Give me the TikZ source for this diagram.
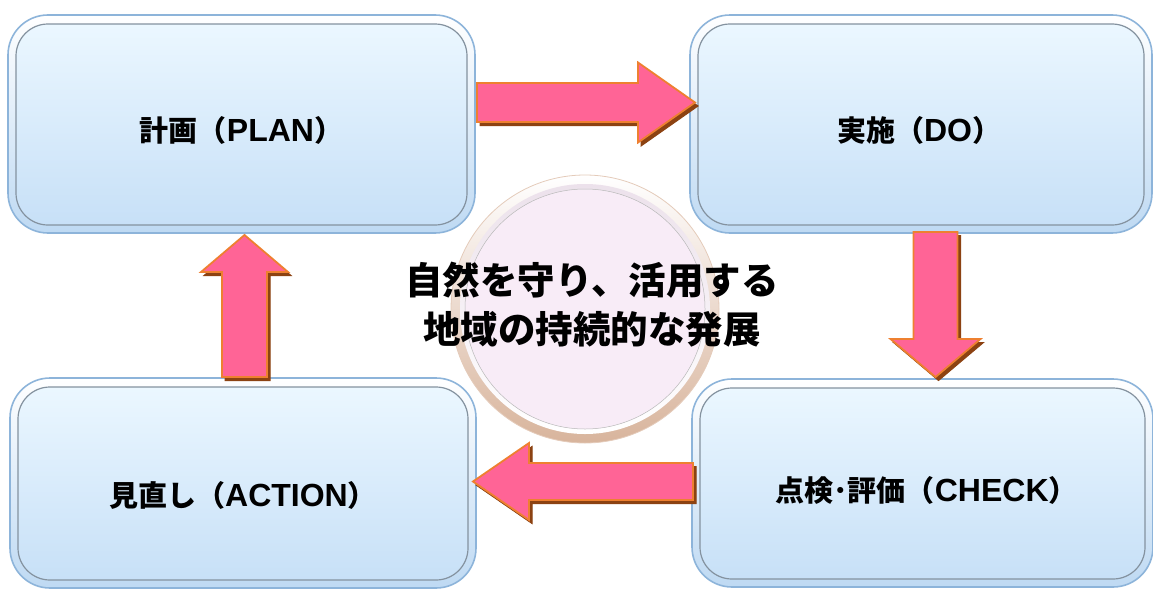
\documentclass[tikz,border=0pt]{standalone}
\usepackage{fontspec}
\setmainfont{Noto Sans CJK JP}
\newfontfamily\latfont{Liberation Sans}
\newcommand\rom[1]{{\latfont\fontsize{32}{34}\selectfont\bfseries #1}}
\usetikzlibrary{calc,positioning}
\definecolor{marco}{HTML}{8DB4DA}
\definecolor{cieloa}{HTML}{EBF7FF}
\definecolor{cielob}{HTML}{C7E0F7}
\definecolor{rosa}{HTML}{FF6496}
\definecolor{naranja}{HTML}{EE8030}
\definecolor{sombra}{HTML}{8C4212}
\definecolor{lila}{HTML}{F8ECF7}
\definecolor{tostado}{HTML}{D8B49C}

\begin{document}
\begin{tikzpicture}[x=1pt,y=-1pt,
    caja/.style={rectangle,rounded corners=40pt,inner sep=0pt,outer sep=0pt,
      top color=white,bottom color=cielob!85!marco,draw=marco,line width=1.6pt},
    etiq/.style={font=\fontsize{29}{34}\selectfont\bfseries,inner sep=0pt},
    flecha/.style={fill=rosa,draw=naranja,line width=1.8pt,line join=miter,
      preaction={fill=sombra,draw=sombra,line width=1pt,transform canvas={shift={(3pt,-3.5pt)}}}}]
  \useasboundingbox (0,0) rectangle (1153,589);
  % cajas del ciclo
  \node[caja,minimum width=467pt,minimum height=218pt] (plan) at (241.5,124) {};
  \node[caja,minimum width=462pt,minimum height=218pt] (do) at (921,124) {};
  \node[caja,minimum width=461pt,minimum height=208pt] (check) at (922.5,483) {};
  \node[caja,minimum width=466pt,minimum height=210pt] (act) at (243,483) {};
  % relieve interior
  \foreach \c in {plan,do,check,act}
    \draw[rounded corners=32pt,top color=cieloa,bottom color=cielob,draw=gray!65!marco,line width=1.2pt]
      ($(\c.north west)+(8,9)$) rectangle ($(\c.south east)+(-8,-8)$);
  \node[etiq] at ($(plan)+(0,6)$) {計画（\rom{PLAN}）};
  \node[etiq] at ($(do)+(-2,6)$) {実施（\rom{DO}）};
  \node[etiq] at ($(check)+(4,7)$) {点検･評価（\rom{CHECK}）};
  \node[etiq] at ($(act)+(0,12)$) {見直し（\rom{ACTION}）};
  % extremos de las flechas
  \coordinate (a1) at ($(plan.east)+(2,-21.5)$);
  \coordinate (b1) at ($(do.west)+(5,-21.5)$);
  \coordinate (a2) at ($(do.south)+(14.5,-1)$);
  \coordinate (b2) at ($(check.north)+(13,-2)$);
  \coordinate (a3) at ($(check.west)+(1,-1.5)$);
  \coordinate (b3) at ($(act.east)+(-3,-1.5)$);
  \coordinate (a4) at ($(act.north)+(1.5,-1)$);
  \coordinate (b4) at ($(plan.south)+(3,2)$);
  \foreach \a/\b/\s/\h/\k in {a1/b1/19.5/40/57, a2/b2/22/45/38, a3/b3/18.5/38.5/56, a4/b4/22.5/43.5/37}
    \draw[flecha] ($(\a)!\s pt!90:(\b)$) -- ($(\b)!\k pt!(\a)!\s pt!-90:(\a)$)
      -- ($(\b)!\k pt!(\a)!\h pt!-90:(\a)$) -- (\b)
      -- ($(\b)!\k pt!(\a)!\h pt!90:(\a)$) -- ($(\b)!\k pt!(\a)!\s pt!90:(\a)$)
      -- ($(\a)!\s pt!-90:(\b)$) -- cycle;
  % centro
  \node[circle,inner sep=0pt,minimum size=268pt,top color=white,bottom color=tostado,
    draw=tostado!70!white,line width=0.8pt] (meta) at (585,309) {};
  \node[circle,inner sep=0pt,minimum size=250pt,top color=lila!90!gray,bottom color=white,
    line width=0.6pt] (disco) at (meta) {};
  \node[circle,inner sep=0pt,minimum size=240pt,fill=lila,draw=gray!55,line width=0.5pt] at (meta) {};
  \node[font=\fontsize{37.5}{49}\selectfont\bfseries,align=center] (lema) at (592,304.5)
    {自然を守り、活用する\\地域の持続的な発展};
\end{tikzpicture}
\end{document}
